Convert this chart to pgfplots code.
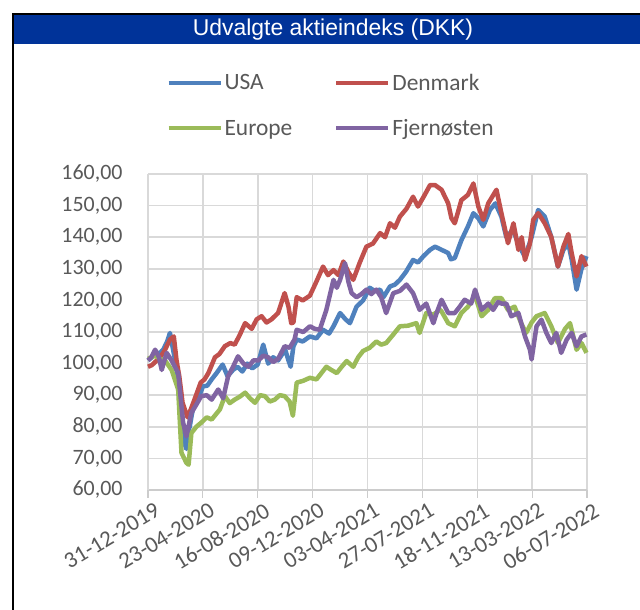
\documentclass[border=0pt]{standalone}
\usepackage{pgfplots}
\pgfplotsset{compat=1.18}
\usepackage{fontspec}
\setmainfont{Carlito}
\newfontfamily\arialf{Liberation Sans}
\definecolor{cusa}{RGB}{79,129,189}
\definecolor{cdk}{RGB}{192,80,77}
\definecolor{ceu}{RGB}{155,187,89}
\definecolor{cfe}{RGB}{128,100,162}
\definecolor{titlebg}{RGB}{0,51,153}
\definecolor{txtgray}{RGB}{89,89,89}
\definecolor{gridgray}{RGB}{217,217,217}
\begin{document}
\begin{tikzpicture}[x=1bp,y=1bp]
\useasboundingbox (0,0) rectangle (640,610);
\fill[white] (0,0) rectangle (640,610);
\fill[titlebg] (13,566) rectangle (660,596);
\draw[black, line width=2.5bp] (13,-20) -- (13,596) -- (660,596);
\node[text=white, font=\arialf\fontsize{23}{26}\selectfont] at (333,580) {Udvalgte aktieindeks (DKK)};
\begin{axis}[
  at={(148bp,120bp)}, anchor=south west,
  scale only axis, width=439bp, height=316bp,
  xmin=0, xmax=8, ymin=60, ymax=160,
  xtick={0,1,2,3,4,5,6,7,8},
  xticklabels={31-12-2019,23-04-2020,16-08-2020,09-12-2020,03-04-2021,27-07-2021,18-11-2021,13-03-2022,06-07-2022},
  ytick={60,70,80,90,100,110,120,130,140,150,160},
  grid=major,
  major grid style={draw=gridgray, line width=1.5bp},
  axis line style={draw=gridgray, line width=1.5bp},
  axis x line*=bottom, axis y line*=left,
  x axis line style={draw=lightgray!80, line width=1.5bp},
  tick style={draw=lightgray!80, line width=1.2bp},
  xtick pos=bottom, ytick pos=left,
  major tick length=8bp,
  x tick style={draw=lightgray!80},
  y tick style={draw=none},
  tick align=outside,
  /pgf/number format/assume math mode=true,
  /pgf/number format/fixed,
  /pgf/number format/fixed zerofill,
  /pgf/number format/precision=2,
  /pgf/number format/use comma,
  ticklabel style={font=\fontsize{22}{24}\selectfont, text=txtgray},
  yticklabel style={xshift=-14bp},
  xticklabel style={font=\fontsize{23}{24}\selectfont, rotate=31, anchor=north east, inner sep=0pt, xshift=3bp, yshift=-6bp},
  legend columns=2,
  legend cell align=left,
  legend style={draw=none, fill=none, at={(0.035,1.33)}, anchor=north west,
    font=\fontsize{23.5}{26}\selectfont, text=txtgray,
    /tikz/every even column/.append style={column sep=40bp},
    row sep=24bp},
  legend image code/.code={\draw[#1, line width=4bp] (0bp,0bp) -- (52bp,0bp);},
  every axis plot/.append style={line width=4.5bp, line join=round},
  clip=false
]
\addplot[cusa] coordinates {
(0,101) (0.07,102) (0.13,104) (0.2,103) (0.28,104.5) (0.35,107) (0.40,109.7) (0.44,106) (0.48,102.3) (0.57,92.8) (0.62,84) (0.66,75) (0.70,73) (0.72,78) (0.76,80) (0.80,84) (0.85,87.6) (0.92,89) (1.00,92.8) (1.08,93) (1.16,95) (1.25,97) (1.36,99.7) (1.45,96) (1.55,98) (1.63,99) (1.72,97.5) (1.81,100) (1.9,98.5) (2.0,99.7) (2.10,106) (2.19,100) (2.28,102) (2.37,101) (2.50,104.4) (2.56,101) (2.60,99) (2.65,105.5) (2.71,107.6) (2.82,107) (2.95,108.6) (3.07,108) (3.19,110.7) (3.30,109.5) (3.38,111.8) (3.50,116) (3.60,114) (3.68,112.8) (3.80,118) (3.92,120) (4.04,124) (4.13,123) (4.23,123.4) (4.29,121) (4.41,124.4) (4.50,125) (4.59,126.5) (4.70,129) (4.83,132.8) (4.92,132) (5.02,134) (5.14,136) (5.23,137) (5.35,136) (5.47,135) (5.52,133) (5.59,133.4) (5.71,139) (5.83,143.4) (5.93,147.6) (6.02,146) (6.11,143.4) (6.23,148.6) (6.33,150.7) (6.44,146.5) (6.53,140) (6.65,142.3) (6.77,137) (6.87,133.8) (6.99,140) (7.11,148.6) (7.23,146.5) (7.35,140) (7.47,130.7) (7.57,136) (7.66,138) (7.72,133) (7.81,123.4) (7.90,130) (7.99,134)
};
\addplot[cdk] coordinates {
(0,99) (0.07,99.5) (0.13,100.5) (0.22,102) (0.30,104) (0.40,107.6) (0.47,108.6) (0.52,101) (0.57,96) (0.63,87.6) (0.72,83) (0.78,85.5) (0.87,89.7) (0.96,94) (1.03,95) (1.10,97) (1.22,102) (1.30,103) (1.40,105.5) (1.50,106.5) (1.58,106) (1.67,109) (1.77,112.8) (1.89,111) (1.98,114) (2.07,115) (2.16,113) (2.25,114) (2.37,116) (2.49,122.3) (2.56,118) (2.61,112.8) (2.65,113) (2.71,121) (2.82,120) (2.95,121.5) (3.07,126) (3.19,130.7) (3.28,128) (3.38,129.6) (3.47,128) (3.56,132.3) (3.65,129) (3.74,126.5) (3.86,132) (3.98,137) (4.10,138) (4.23,141.3) (4.32,140) (4.41,144.4) (4.50,143) (4.59,146.5) (4.71,149) (4.83,152.8) (4.92,149.7) (5.03,153) (5.14,156.5) (5.23,156.5) (5.35,155) (5.47,150.7) (5.53,146) (5.59,144.4) (5.65,148) (5.71,151.7) (5.83,153.4) (5.93,157) (6.02,149.7) (6.11,145.5) (6.20,150.7) (6.35,155) (6.44,147.6) (6.50,143) (6.56,138.1) (6.66,144.4) (6.75,136) (6.81,140) (6.87,132.8) (6.96,138) (7.02,145.5) (7.11,147.6) (7.23,144.4) (7.35,140) (7.47,130.7) (7.57,137) (7.66,141) (7.72,135) (7.81,127.6) (7.90,134) (7.99,130.7)
};
\addplot[ceu] coordinates {
(0,101.5) (0.13,102.5) (0.22,101.5) (0.31,101) (0.43,98) (0.55,91.8) (0.61,71.8) (0.66,70) (0.70,68.6) (0.74,68) (0.79,78) (0.88,80) (0.97,81.3) (1.07,83) (1.16,82.3) (1.31,85.5) (1.40,89.7) (1.49,87.5) (1.58,88.6) (1.67,89.5) (1.77,90.8) (1.86,89) (1.95,87.6) (2.04,90) (2.13,89.7) (2.22,88) (2.31,88.6) (2.40,90) (2.49,89.7) (2.58,88) (2.64,83.5) (2.71,94) (2.82,94.5) (2.95,95.5) (3.07,95) (3.16,97) (3.25,99) (3.34,98) (3.44,97) (3.53,99) (3.62,100.8) (3.74,99) (3.83,102) (3.92,104) (4.04,105) (4.16,107) (4.25,106) (4.34,106.5) (4.46,109) (4.59,111.8) (4.74,112) (4.89,112.8) (4.95,109.7) (5.07,116) (5.20,115.5) (5.32,117) (5.35,116.5) (5.47,112.8) (5.59,111.8) (5.71,116) (5.83,118) (5.96,121.5) (6.08,115) (6.20,117) (6.32,120.7) (6.44,120.7) (6.56,117) (6.68,118) (6.80,112.8) (6.89,109.7) (6.99,113) (7.08,115) (7.23,116) (7.35,111.8) (7.47,106.5) (7.60,111) (7.69,112.8) (7.81,104.4) (7.90,106.5) (7.99,103.4)
};
\addplot[cfe] coordinates {
(0,101) (0.06,102) (0.13,104.4) (0.20,102) (0.25,98) (0.34,103.4) (0.43,101) (0.55,97) (0.64,81.3) (0.70,77) (0.79,84.4) (0.88,87) (0.97,89.7) (1.07,90) (1.16,88.6) (1.28,91.8) (1.37,89) (1.46,96) (1.55,99) (1.64,102.3) (1.74,100) (1.83,99) (1.92,101) (2.01,101) (2.10,102.5) (2.19,102) (2.28,100.5) (2.37,101.5) (2.49,105.5) (2.58,105) (2.67,107.6) (2.71,110.7) (2.83,110) (2.95,111.8) (3.04,111) (3.13,110.7) (3.25,117) (3.38,126.5) (3.44,124) (3.50,126.5) (3.59,131.8) (3.65,126) (3.71,122.3) (3.80,121) (3.89,122) (3.98,123.4) (4.07,122) (4.16,123.4) (4.25,121) (4.34,116) (4.47,122.3) (4.59,123) (4.71,125) (4.83,122.3) (4.95,117) (5.07,119) (5.20,112.8) (5.26,116) (5.35,120.2) (5.47,116) (5.59,116) (5.68,118) (5.77,120.2) (5.89,119) (5.96,123.4) (6.08,117) (6.20,119) (6.29,117) (6.38,119.5) (6.44,119) (6.53,119) (6.62,115) (6.75,116) (6.87,108.6) (6.96,104.4) (6.99,101.3) (7.08,111.8) (7.17,113.9) (7.26,109.7) (7.35,106.5) (7.44,109.7) (7.53,103.4) (7.63,107.6) (7.72,109.7) (7.81,105.5) (7.90,108.6) (7.99,109.2)
};
\legend{USA,Denmark,Europe,Fjernøsten}
\end{axis}
\end{tikzpicture}
\end{document}
